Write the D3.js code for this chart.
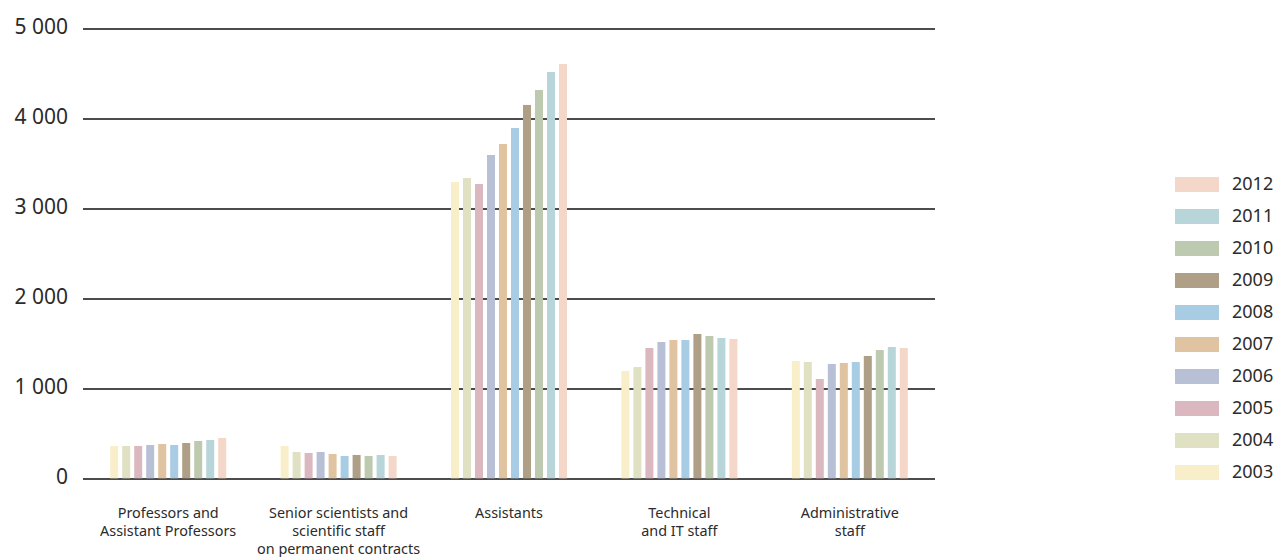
<!DOCTYPE html>
<html>
<head>
<meta charset="utf-8">
<script src="https://cdn.jsdelivr.net/npm/d3@7"></script>
<style>
  html, body { margin: 0; padding: 0; background: #fff; }
  svg { display: block; }
  text { font-family: "Noto Sans", sans-serif; fill: #2b2b2b; }
</style>
</head>
<body>
<svg id="chart" width="1279" height="557"></svg>
<script>
const categories = [
  ["Professors and", "Assistant Professors"],
  ["Senior scientists and", "scientific staff", "on permanent contracts"],
  ["Assistants"],
  ["Technical", "and IT staff"],
  ["Administrative", "staff"]
];
const years = ["2003","2004","2005","2006","2007","2008","2009","2010","2011","2012"];
const colors = ["#f8eeca","#e0e1c3","#dbb8c0","#b7c0d4","#e0c3a0","#a8cce3","#ae9f86","#bdcab0","#b8d5da","#f5d7c9"];
// values per category, ordered by year 2003..2012
const professors   = [367, 367, 367, 378, 389, 378, 400, 422, 433, 456];
const seniorStaff  = [367, 300, 289, 300, 278, 256, 267, 256, 267, 256];
const assistants   = [3300, 3344, 3278, 3600, 3722, 3900, 4156, 4322, 4522, 4611];
const technical    = [1200, 1244, 1456, 1522, 1544, 1544, 1611, 1589, 1567, 1556];
const administrative = [1311, 1300, 1111, 1278, 1289, 1300, 1367, 1433, 1467, 1456];
const yTicks = [0, 1000, 2000, 3000, 4000, 5000];

const series = [professors, seniorStaff, assistants, technical, administrative];

const svg = d3.select("#chart");
const x0 = d3.scaleBand().domain(d3.range(categories.length)).range([83, 935]).padding(0);
const x1 = d3.scaleBand().domain(years).range([0, 116]).paddingInner(1/3).paddingOuter(0);
const y = d3.scaleLinear().domain([0, 5000]).range([479, 29]);

// gridlines
svg.append("g").selectAll("line").data(yTicks).join("line")
  .attr("x1", 83).attr("x2", 935)
  .attr("y1", d => y(d)).attr("y2", d => y(d))
  .attr("stroke", "#111").attr("stroke-width", 1.3);

// y labels
svg.append("g").selectAll("text").data(yTicks).join("text")
  .attr("x", 68).attr("y", d => y(d) - 1)
  .attr("text-anchor", "end").attr("dominant-baseline", "middle")
  .attr("font-size", 21)
  .text(d => d === 0 ? "0" : (d/1000) + " 000");

// bars
const groups = svg.append("g").selectAll("g").data(series).join("g")
  .attr("transform", (d, i) => `translate(${x0(i) + x0.bandwidth()/2 - 58},0)`);
groups.selectAll("rect").data(d => d.map((v, j) => ({v, j}))).join("rect")
  .attr("x", d => x1(years[d.j]))
  .attr("width", x1.bandwidth())
  .attr("y", d => y(d.v))
  .attr("height", d => y(0) - y(d.v) - 0.7)
  .attr("fill", d => colors[d.j]);

// category labels
const cl = svg.append("g").selectAll("text").data(categories).join("text")
  .attr("text-anchor", "middle")
  .attr("font-size", 14.4);
cl.each(function(lines, i) {
  d3.select(this).selectAll("tspan").data(lines).join("tspan")
    .attr("x", x0(i) + x0.bandwidth()/2)
    .attr("y", (d, k) => 517.5 + k * 18)
    .text(d => d);
});

// legend
const leg = svg.append("g").selectAll("g").data(years.slice().reverse()).join("g")
  .attr("transform", (d, k) => `translate(1175,${177 + k * 32})`);
leg.append("rect").attr("width", 44).attr("height", 15)
  .attr("fill", d => colors[years.indexOf(d)]);
leg.append("text").attr("x", 57).attr("y", 8.5).attr("dominant-baseline", "middle")
  .attr("font-size", 18).text(d => d);
</script>
</body>
</html>
